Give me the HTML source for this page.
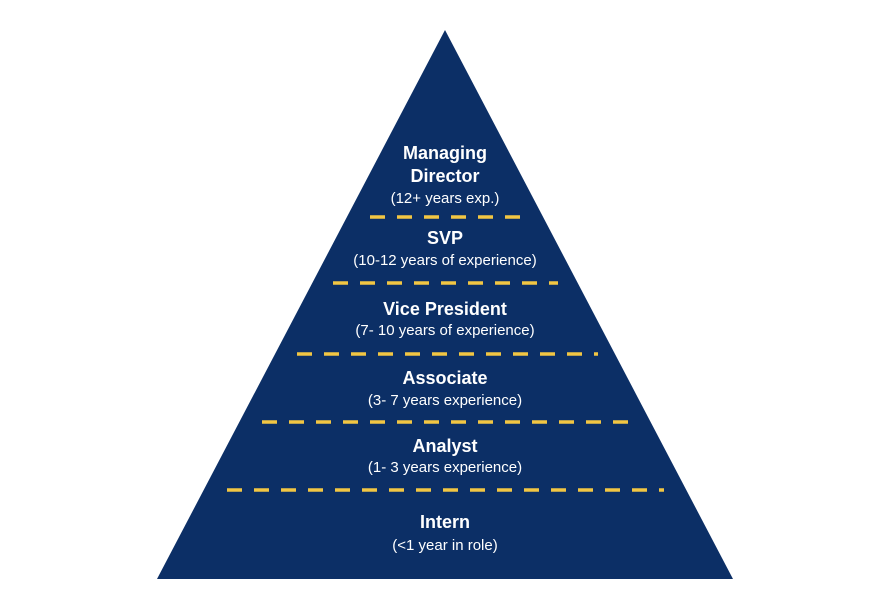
<!DOCTYPE html>
<html><head><style>
body{margin:0;background:#fff;}
svg{display:block}
.b{font:bold 18px "Liberation Sans",sans-serif;fill:#fff;text-anchor:middle}
.s{font:15px "Liberation Sans",sans-serif;fill:#fff;text-anchor:middle}
line{stroke:#f2c643;stroke-width:3.5;stroke-dasharray:15 12}
</style></head><body>
<svg width="890" height="603" viewBox="0 0 890 603">
<polygon points="445,30 157,579 733,579" fill="#0c2f66"/>
<line x1="370" y1="217" x2="528" y2="217"/>
<line x1="333" y1="283" x2="558" y2="283"/>
<line x1="297" y1="354" x2="598" y2="354"/>
<line x1="262" y1="422" x2="632" y2="422"/>
<line x1="227" y1="490" x2="664" y2="490"/>
<text class="b" x="445" y="159">Managing</text>
<text class="b" x="445" y="182">Director</text>
<text class="s" x="445" y="203">(12+ years exp.)</text>
<text class="b" x="445" y="244">SVP</text>
<text class="s" x="445" y="265">(10-12 years of experience)</text>
<text class="b" x="445" y="315">Vice President</text>
<text class="s" x="445" y="335">(7- 10 years of experience)</text>
<text class="b" x="445" y="384">Associate</text>
<text class="s" x="445" y="405">(3- 7 years experience)</text>
<text class="b" x="445" y="452">Analyst</text>
<text class="s" x="445" y="472">(1- 3 years experience)</text>
<text class="b" x="445" y="528">Intern</text>
<text class="s" x="445" y="550">(&lt;1 year in role)</text>
</svg>
</body></html>
